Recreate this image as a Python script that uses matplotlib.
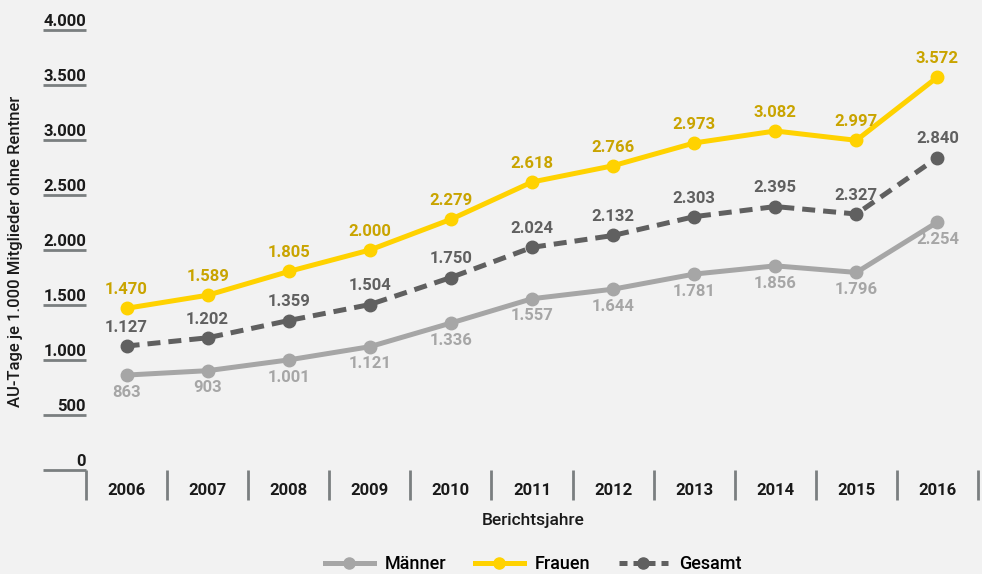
import matplotlib
matplotlib.use("Agg")
import matplotlib.pyplot as plt
from matplotlib.lines import Line2D

# ----------------------------------------
#  Data
# ----------------------------------------
YEARS   = ["2006", "2007", "2008", "2009", "2010", "2011",
           "2012", "2013", "2014", "2015", "2016"]
MAENNER = [863, 903, 1001, 1121, 1336, 1557, 1644, 1781, 1856, 1796, 2254]
FRAUEN  = [1470, 1589, 1805, 2000, 2279, 2618, 2766, 2973, 3082, 2997, 3572]
GESAMT  = [1127, 1202, 1359, 1504, 1750, 2024, 2132, 2303, 2395, 2327, 2840]
Y_TICKS = [0, 500, 1000, 1500, 2000, 2500, 3000, 3500, 4000]

# ----------------------------------------
#  Style
# ----------------------------------------
BG         = "#f2f2f2"
C_FRAUEN   = "#ffd200"
C_FRAUEN_T = "#c9a400"
C_MAENNER  = "#a6a6a6"
C_GESAMT   = "#606060"
C_AXIS     = "#7a7f80"
C_TEXT     = "#1a1a1a"

plt.rcParams["font.family"] = ["Roboto", "DejaVu Sans"]


def fmt(v):
    return f"{v:,}".replace(",", ".")


fig = plt.figure(figsize=(9.82, 5.74), dpi=100, facecolor=BG)
ax = fig.add_axes([43 / 982, 74 / 574, 935 / 982, 470 / 574])
ax.set_facecolor(BG)
ax.set_xlim(-0.5 - 43 / 81, 10.5)
ax.set_ylim(-30 * 500 / 55, 4000)
ax.axis("off")

x = list(range(len(YEARS)))
x_left = -0.5 - 43 / 81

# y axis: short tick lines with labels on top
for t in Y_TICKS:
    ax.plot([x_left, -0.5], [t, t], color=C_AXIS, lw=2, solid_capstyle="butt",
            clip_on=False)
    ax.text(-0.5, t + 40, fmt(t), ha="right", va="baseline", fontsize=12,
            fontweight="bold", color=C_TEXT)

# x axis: corner + separators
y_low = -30 * 500 / 55
for k in range(len(YEARS) + 1):
    ax.plot([k - 0.5, k - 0.5], [0, y_low], color=C_AXIS, lw=2,
            solid_capstyle="butt", clip_on=False)
for xi, yr in zip(x, YEARS):
    ax.text(xi, -182, yr, ha="center", va="center", fontsize=12,
            fontweight="bold", color=C_TEXT)

# series
ax.plot(x, MAENNER, color=C_MAENNER, lw=3.6, marker="o", ms=9,
        label="Männer", clip_on=False)
ax.plot(x, FRAUEN, color=C_FRAUEN, lw=3.6, marker="o", ms=9,
        label="Frauen", clip_on=False)
ax.plot(x, GESAMT, color=C_GESAMT, lw=3.6, marker="o", ms=9,
        dashes=(2.6, 1.6), label="Gesamt", clip_on=False)

# value labels
for xi, v in zip(x, FRAUEN):
    ax.annotate(fmt(v), (xi, v), xytext=(0, 8), textcoords="offset points",
                ha="center", va="bottom", fontsize=12, fontweight="bold",
                color=C_FRAUEN_T)
for xi, v in zip(x, GESAMT):
    ax.annotate(fmt(v), (xi, v), xytext=(0, 8), textcoords="offset points",
                ha="center", va="bottom", fontsize=12, fontweight="bold",
                color=C_GESAMT)
for xi, v in zip(x, MAENNER):
    ax.annotate(fmt(v), (xi, v), xytext=(0, -7), textcoords="offset points",
                ha="center", va="top", fontsize=12, fontweight="bold",
                color=C_MAENNER)

# axis titles
fig.text(533 / 982, 1 - 521 / 574, "Berichtsjahre", ha="center", va="center",
         fontsize=12.5, fontweight="medium", color=C_TEXT)
fig.text(16 / 982, 1 - 251 / 574, "AU-Tage je 1.000 Mitglieder ohne Rentner",
         ha="center", va="center", rotation=90, fontsize=12,
         fontweight="medium", color=C_TEXT)

# legend
handles = [
    Line2D([], [], color=C_MAENNER, lw=3.6, marker="o", ms=8),
    Line2D([], [], color=C_FRAUEN, lw=3.6, marker="o", ms=8),
    Line2D([], [], color=C_GESAMT, lw=3.6, marker="o", ms=8, dashes=(1.6, 1.2)),
]
fig.legend(handles, ["Männer", "Frauen", "Gesamt"], loc="center",
           bbox_to_anchor=(533 / 982, 1 - 564 / 574), ncol=3, frameon=False,
           handlelength=2.7, columnspacing=1.6, handletextpad=0.6,
           prop={"size": 13, "weight": "medium"})

fig.savefig("out.png", dpi=100, facecolor=BG)
